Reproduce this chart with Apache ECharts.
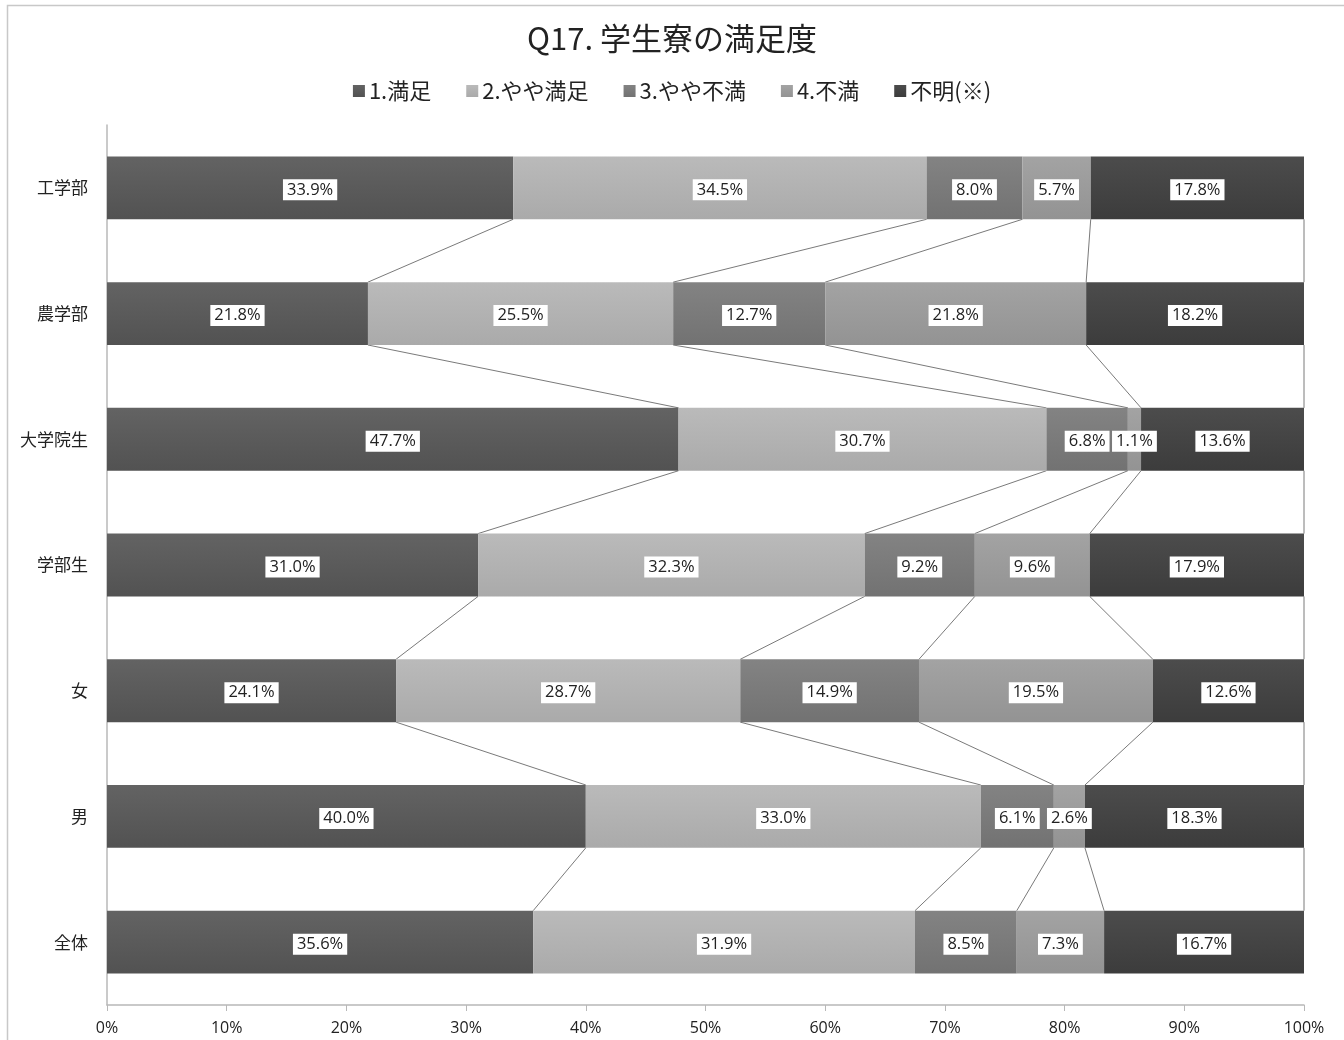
<!DOCTYPE html>
<html>
<head>
<meta charset="utf-8">
<script src="https://cdn.jsdelivr.net/npm/echarts@6/dist/echarts.min.js"></script>
<style>
  html, body { margin: 0; padding: 0; background: #fff; }
  #chart { width: 1344px; height: 1040px; }
</style>
</head>
<body>
<div id="chart"></div>
<script>
// Respondent groups, top to bottom
const categories = ['工学部', '農学部', '大学院生', '学部生', '女', '男', '全体'];
const seriesNames = ['1.満足', '2.やや満足', '3.やや不満', '4.不満', '不明(※)'];

// Percentages per answer, one value per group
const satisfied       = [33.9, 21.8, 47.7, 31.0, 24.1, 40.0, 35.6];
const ratherSatisfied = [34.5, 25.5, 30.7, 32.3, 28.7, 33.0, 31.9];
const ratherUnhappy   = [8.0, 12.7, 6.8, 9.2, 14.9, 6.1, 8.5];
const unhappy         = [5.7, 21.8, 1.1, 9.6, 19.5, 2.6, 7.3];
const unknown         = [17.8, 18.2, 13.6, 17.9, 12.6, 18.3, 16.7];

const xTicks = [0, 10, 20, 30, 40, 50, 60, 70, 80, 90, 100];

const rawSeries = [satisfied, ratherSatisfied, ratherUnhappy, unhappy, unknown];

// 100% stacking: each bar is scaled by its group total
const totals = categories.map((_, i) => rawSeries.reduce((s, arr) => s + arr[i], 0));
const shares = rawSeries.map(arr => arr.map((v, i) => v / totals[i] * 100));

// cumulative right edges of every segment, per series and group
const cumulative = shares.map((_, k) =>
  categories.map((_, i) => shares.slice(0, k + 1).reduce((s, arr) => s + arr[i], 0))
);

const grad = (a, b) => new echarts.graphic.LinearGradient(0, 0, 0, 1, [
  { offset: 0, color: a }, { offset: 1, color: b }
]);
const fills = [
  grad('#636363', '#525252'),
  grad('#bababa', '#aaaaaa'),
  grad('#838383', '#727272'),
  grad('#a3a3a3', '#939393'),
  grad('#4c4c4c', '#3c3c3c')
];

const BAR_RATIO = 0.5;
const labelFont = '"Open Sans", "Noto Sans", sans-serif';
const cjkFont = '"Noto Sans CJK JP", "Noto Sans", sans-serif';

const barSeries = seriesNames.map((name, k) => ({
  name,
  type: 'bar',
  stack: 'total',
  barWidth: (BAR_RATIO * 100) + '%',
  itemStyle: { color: fills[k] },
  label: {
    show: true,
    position: 'inside',
    formatter: p => rawSeries[k][p.dataIndex].toFixed(1) + '%',
    color: '#222',
    fontSize: 16.5,
    fontFamily: labelFont,
    backgroundColor: '#fff',
    padding: [3, 4, 1, 4],
    offset: [0, 2]
  },
  emphasis: { disabled: true },
  data: shares[k]
}));

// Series lines joining segment edges between neighbouring bars
const connectorSeries = {
  type: 'custom',
  name: 'connectors',
  silent: true,
  z: 1,
  encode: { x: 0, y: 1 },
  data: categories.slice(0, -1).map((_, i) => [0, i]),
  renderItem: (params, api) => {
    const i = params.dataIndex;
    const half = api.size([0, 1])[1] * BAR_RATIO / 2;
    const children = cumulative.map(cum => {
      const p1 = api.coord([cum[i], i]);
      const p2 = api.coord([cum[i + 1], i + 1]);
      return {
        type: 'line',
        shape: { x1: p1[0], y1: p1[1] + half, x2: p2[0], y2: p2[1] - half },
        style: { stroke: '#7a7a7a', lineWidth: 1 }
      };
    });
    return { type: 'group', children };
  }
};

const chart = echarts.init(document.getElementById('chart'), null, { renderer: 'canvas' });
chart.setOption({
  animation: false,
  backgroundColor: '#fff',
  graphic: [{
    type: 'rect',
    shape: { x: 7.5, y: 5.5, width: 1400, height: 1100 },
    style: { fill: 'none', stroke: '#c8c8c8', lineWidth: 1.5 },
    silent: true,
    z: -10
  }],
  title: {
    text: 'Q17. 学生寮の満足度',
    left: 'center',
    top: 18,
    textStyle: { fontFamily: cjkFont, fontSize: 31, fontWeight: 'normal', color: '#222' }
  },
  legend: {
    data: seriesNames,
    top: 75,
    left: 'center',
    icon: 'rect',
    itemWidth: 12,
    itemHeight: 12,
    itemGap: 35,
    textStyle: { fontFamily: cjkFont, fontSize: 22, color: '#222', padding: [0, 0, 0, -1] }
  },
  grid: { left: 107, right: 40, top: 125, bottom: 35, containLabel: false },
  xAxis: {
    type: 'value',
    min: xTicks[0],
    max: xTicks[xTicks.length - 1],
    interval: xTicks[1] - xTicks[0],
    axisLine: { show: true, lineStyle: { color: '#b8b8b8', width: 1.5 } },
    axisTick: { show: true, length: 6, lineStyle: { color: '#b8b8b8' } },
    splitLine: { show: false },
    axisLabel: {
      formatter: '{value}%',
      fontFamily: labelFont,
      fontSize: 16,
      color: '#222',
      margin: 15
    }
  },
  yAxis: {
    type: 'category',
    data: categories,
    inverse: true,
    axisLine: { show: true, lineStyle: { color: '#b8b8b8', width: 1.5 } },
    axisTick: { show: false },
    axisLabel: { fontFamily: cjkFont, fontSize: 17, color: '#222', margin: 19 }
  },
  series: [connectorSeries, ...barSeries]
});
</script>
</body>
</html>
